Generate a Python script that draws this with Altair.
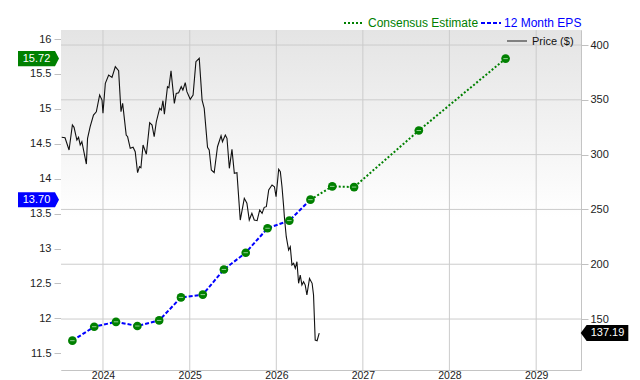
import altair as alt
import pandas as pd

# ---------------- data ----------------
price_dates = ["2023-07-11","2023-07-25","2023-08-11","2023-08-25","2023-09-01","2023-09-13","2023-09-20","2023-09-27","2023-10-04","2023-10-23",
               "2023-10-28","2023-11-08","2023-11-22","2023-12-04","2023-12-18","2023-12-28","2024-01-01","2024-01-11","2024-01-25","2024-02-08",
               "2024-02-22","2024-03-07","2024-03-17","2024-03-24","2024-04-08","2024-04-14","2024-04-25","2024-05-07","2024-05-16","2024-05-26",
               "2024-06-03","2024-06-09","2024-06-18","2024-07-02","2024-07-16","2024-07-26","2024-08-04","2024-08-13","2024-08-27","2024-09-03",
               "2024-09-10","2024-09-16","2024-09-29","2024-10-05","2024-10-14","2024-10-28","2024-11-05","2024-11-15","2024-11-26","2024-12-03",
               "2024-12-13","2024-12-20","2025-01-03","2025-01-15","2025-01-27","2025-02-10","2025-02-22","2025-03-03","2025-03-17","2025-03-24",
               "2025-04-02","2025-04-14","2025-04-28","2025-05-13","2025-05-19","2025-05-31","2025-06-07","2025-06-17","2025-06-28","2025-07-08",
               "2025-07-19","2025-08-02","2025-08-19","2025-08-30","2025-09-09","2025-09-20","2025-09-30","2025-10-12","2025-10-23","2025-11-02",
               "2025-11-11","2025-11-20","2025-11-30","2025-12-14","2025-12-24","2025-12-31","2026-01-11","2026-01-18","2026-01-25","2026-02-01",
               "2026-02-04","2026-02-12","2026-02-22","2026-03-01","2026-03-08","2026-03-15","2026-03-22","2026-03-29","2026-04-05","2026-04-12",
               "2026-04-19","2026-04-26","2026-05-03","2026-05-10","2026-05-21","2026-06-01","2026-06-07","2026-06-14","2026-06-22","2026-07-01"]
price_values = [315.8, 315.4, 304.2, 327.0, 324.9, 313.3, 315.8, 308.8, 311.8, 291.4,
                314.9, 325.5, 336.1, 339.1, 354.4, 349.8, 337.7, 365.1, 372.6, 370.5,
                380.2, 376.5, 339.1, 346.8, 317.9, 316.3, 305.7, 306.7, 302.6, 283.5,
                289.0, 288.0, 308.8, 300.3, 329.1, 327.0, 316.3, 330.0, 342.2, 340.7,
                349.2, 337.0, 362.0, 361.0, 376.5, 346.8, 355.9, 356.5, 362.0, 358.9,
                365.6, 357.4, 350.5, 354.4, 384.8, 387.9, 349.8, 342.2, 306.7, 304.2,
                286.0, 283.5, 307.2, 317.2, 311.8, 317.9, 314.9, 287.5, 304.8, 282.9,
                283.5, 240.3, 260.1, 255.6, 240.3, 246.4, 240.3, 239.7, 249.5, 246.4,
                251.9, 252.5, 267.7, 272.3, 270.7, 261.6, 286.6, 284.4, 270.7, 252.5,
                243.3, 225.1, 213.0, 216.0, 199.3, 200.8, 196.3, 202.3, 182.6, 190.1,
                181.0, 184.0, 181.0, 171.9, 187.1, 182.6, 171.9, 130.8, 130.2, 137.19]

eps_dates = ["2023-08-25","2023-11-25","2024-02-25","2024-05-25","2024-08-25","2024-11-25",
             "2025-02-25","2025-05-25","2025-08-25","2025-11-25","2026-02-25","2026-05-25"]
eps_values = [11.68, 11.88, 11.95, 11.89, 11.97, 12.30, 12.34, 12.70, 12.94, 13.29, 13.40, 13.70]

est_dates = ["2026-05-25","2026-08-25","2026-11-25","2027-08-25","2028-08-25"]
est_values = [13.70, 13.89, 13.88, 14.69, 15.72]

year_ticks = ["2024-01-01","2025-01-01","2026-01-01","2027-01-01","2028-01-01","2029-01-01"]
eps_ticks = [11.5, 12, 12.5, 13, 13.5, 14, 14.5, 15, 15.5, 16]
price_ticks = [150, 200, 250, 300, 350, 400]

last_price = 137.19
last_eps = 13.70
last_est = 15.72

# ---------------- layout / styles ----------------
W, H = 520, 340
GREEN = "#008000"
BLUE = "#0000ff"
GRID = "#cccccc"
FONT = "Liberation Sans"

price_df = pd.DataFrame({"date": price_dates, "price": price_values})
eps_df = pd.DataFrame({"date": eps_dates, "eps": eps_values})
est_df = pd.DataFrame({"date": est_dates, "eps": est_values})
pts_df = pd.concat([eps_df, est_df.iloc[1:]], ignore_index=True)
years_df = pd.DataFrame({"date": year_ticks})
pticks_df = pd.DataFrame({"price": price_ticks})

x_scale = alt.Scale(type="utc",
                    domain=[alt.DateTime(year=2023, month=7, date=8, utc=True),
                            alt.DateTime(year=2029, month=7, date=9, utc=True)])
x_axis = alt.Axis(values=[alt.DateTime(year=y, month=1, date=1, utc=True) for y in range(2024, 2030)],
                  format="%Y", formatType="utc", grid=False, ticks=False, tickSize=0, domain=False,
                  labelFontSize=10.5, labelPadding=0, labelColor="#222", title=None)
X = alt.X("date:T", scale=x_scale, axis=x_axis, title=None)

eps_scale = alt.Scale(domain=[11.26, 16.13], nice=False, zero=False)
price_scale = alt.Scale(domain=[103.5, 413.7], nice=False, zero=False)

# background gradient
bg = alt.Chart(pd.DataFrame({"a": [0]})).mark_rect(
    fill=alt.LinearGradient(gradient="linear",
                            stops=[alt.GradientStop(color="#e4e4e4", offset=0),
                                   alt.GradientStop(color="#ffffff", offset=0.55),
                                   alt.GradientStop(color="#ffffff", offset=1)],
                            x1=0, x2=0, y1=0, y2=1)
).encode(x=alt.value(0), x2=alt.value(W), y=alt.value(0), y2=alt.value(H))

vgrid = alt.Chart(years_df).mark_rule(color=GRID, strokeWidth=1).encode(
    x=X, y=alt.value(0), y2=alt.value(H))

hgrid = alt.Chart(pticks_df).mark_rule(color=GRID, strokeWidth=1).encode(
    y=alt.Y("price:Q", scale=price_scale, axis=None), x=alt.value(0), x2=alt.value(W))

price_line = alt.Chart(price_df).mark_line(color="#111", strokeWidth=1.1).encode(
    x=X,
    y=alt.Y("price:Q", scale=price_scale,
            axis=alt.Axis(orient="right", values=price_ticks, format="d", grid=False, domain=False,
                          tickSize=7, tickColor="#c0c0c0", labelFontSize=11, labelPadding=2,
                          labelColor="#222", title=None)))

eps_line = alt.Chart(eps_df).mark_line(color=BLUE, strokeWidth=2, strokeDash=[4, 2]).encode(
    x=X,
    y=alt.Y("eps:Q", scale=eps_scale,
            axis=alt.Axis(orient="left", values=eps_ticks, format="~g", grid=False, domain=False,
                          tickSize=7, tickColor="#c0c0c0", labelFontSize=11, labelPadding=3,
                          labelColor="#222", title=None)))

est_line = alt.Chart(est_df).mark_line(color=GREEN, strokeWidth=2, strokeDash=[2, 2]).encode(
    x=X, y=alt.Y("eps:Q", scale=eps_scale, axis=None))

dots = alt.Chart(pts_df).mark_circle(size=75, color=GREEN, opacity=1).encode(
    x=X, y=alt.Y("eps:Q", scale=eps_scale, axis=None))

dashes = alt.Chart(pts_df).mark_point(shape="M-1,0L1,0", size=20, filled=False,
                                      stroke="#8fd08f", strokeWidth=1, opacity=1).encode(
    x=X, y=alt.Y("eps:Q", scale=eps_scale, axis=None))

# axis flags
LFLAG = "M-1,-0.366L0.805,-0.366L1,0L0.805,0.366L-1,0.366Z"
RFLAG = "M1,-0.336L-0.75,-0.336L-1,0L-0.75,0.336L1,0.336Z"

def left_flag(value, color):
    d = pd.DataFrame({"v": [value], "t": [f"{value:.2f}"]})
    shape = alt.Chart(d).mark_point(shape=LFLAG, size=1681, filled=True, fill=color,
                                    strokeWidth=0, opacity=1).encode(
        x=alt.value(-22.5), y=alt.Y("v:Q", scale=eps_scale, axis=None))
    txt = alt.Chart(d).mark_text(color="white", fontSize=11, align="center", baseline="middle").encode(
        x=alt.value(-24.5), y=alt.Y("v:Q", scale=eps_scale, axis=None), text="t:N")
    return shape + txt

flag_est = left_flag(last_est, GREEN)
flag_eps = left_flag(last_eps, BLUE)

pd_last = pd.DataFrame({"v": [last_price], "t": [f"{last_price:.2f}"]})
flag_price = alt.Chart(pd_last).mark_point(shape=RFLAG, size=2266, filled=True, fill="black",
                                           strokeWidth=0, opacity=1).encode(
    x=alt.value(543.5), y=alt.Y("v:Q", scale=price_scale, axis=None))
flag_price_txt = alt.Chart(pd_last).mark_text(color="white", fontSize=11, align="center",
                                              baseline="middle").encode(
    x=alt.value(546.5), y=alt.Y("v:Q", scale=price_scale, axis=None), text="t:N")

# legends
one = pd.DataFrame({"a": [0]})
leg_est_line = alt.Chart(one).mark_rule(color=GREEN, strokeWidth=2, strokeDash=[2, 2]).encode(
    x=alt.value(283), x2=alt.value(303), y=alt.value(-7))
leg_est_txt = alt.Chart(pd.DataFrame({"t": ["Consensus Estimate"]})).mark_text(
    color=GREEN, fontSize=12, align="left", baseline="middle").encode(
    x=alt.value(307), y=alt.value(-7), text="t:N")
leg_eps_line = alt.Chart(one).mark_rule(color=BLUE, strokeWidth=2, strokeDash=[4, 2]).encode(
    x=alt.value(420), x2=alt.value(440), y=alt.value(-7))
leg_eps_txt = alt.Chart(pd.DataFrame({"t": ["12 Month EPS"]})).mark_text(
    color=BLUE, fontSize=12, align="left", baseline="middle").encode(
    x=alt.value(443), y=alt.value(-7), text="t:N")
leg_price_line = alt.Chart(one).mark_rule(color="#808080", strokeWidth=2).encode(
    x=alt.value(446), x2=alt.value(466), y=alt.value(11))
leg_price_txt = alt.Chart(pd.DataFrame({"t": ["Price ($)"]})).mark_text(
    color="#111", fontSize=11, align="left", baseline="middle").encode(
    x=alt.value(471), y=alt.value(12), text="t:N")

chart = alt.layer(
    bg, vgrid, hgrid, price_line, eps_line, est_line, dots, dashes,
    flag_est, flag_eps, flag_price, flag_price_txt,
    leg_est_line, leg_est_txt, leg_eps_line, leg_eps_txt, leg_price_line, leg_price_txt
).resolve_scale(y="independent").properties(
    width=W, height=H,
    autosize=alt.AutoSizeParams(type="none"),
    padding={"left": 61, "top": 30, "right": 59, "bottom": 10},
).configure(font=FONT).configure_view(stroke="#c4c4c4", strokeWidth=1)

chart.save("out.html", embed_options={"renderer": "svg", "actions": False})
